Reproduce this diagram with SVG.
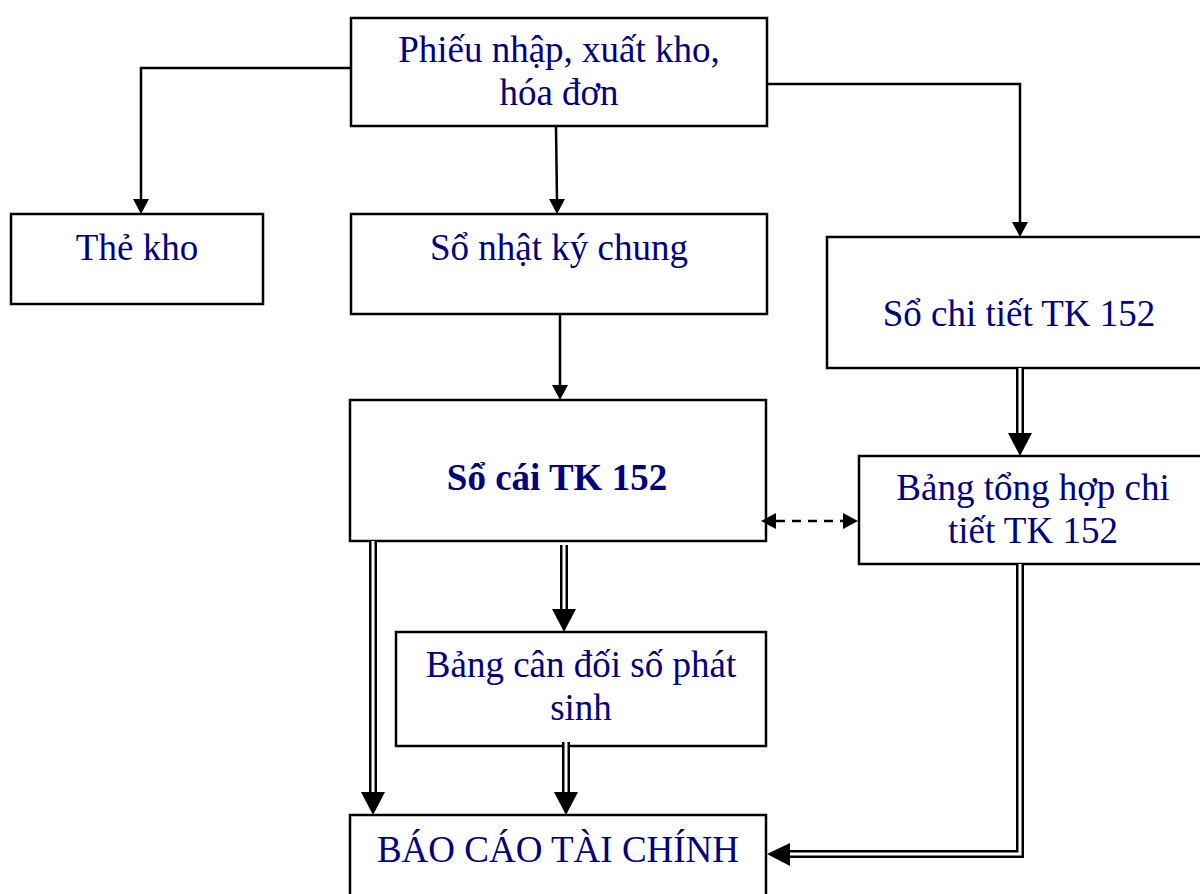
<svg xmlns="http://www.w3.org/2000/svg" width="1200" height="894" viewBox="0 0 1200 894">
<style>
.box{fill:#fff;stroke:#000;stroke-width:2.5}
.t{font-family:"Liberation Serif","Times New Roman",serif;font-size:37px;fill:#000080;text-anchor:middle}
.b{font-weight:bold}
.ln{fill:none;stroke:#000;stroke-width:2.5}
.dbl{fill:none;stroke:#000;stroke-width:8}
.dblw{fill:none;stroke:#fff;stroke-width:3}
.dash{fill:none;stroke:#000;stroke-width:2.5;stroke-dasharray:9 7}
.ah{fill:#000}
</style>
<rect width="1200" height="894" fill="#fff"/>
<g id="n-phieu"><rect class="box" x="351" y="18" width="416" height="108"/><text class="t" x="559" y="62">Phiếu nhập, xuất kho,</text><text class="t" x="559" y="105">hóa đơn</text></g>
<g id="n-thekho"><rect class="box" x="11" y="214" width="252" height="90"/><text class="t" x="137" y="260">Thẻ kho</text></g>
<g id="n-nkc"><rect class="box" x="351" y="214" width="416" height="100"/><text class="t" x="559" y="260">Sổ nhật ký chung</text></g>
<g id="n-sct"><rect class="box" x="827" y="237" width="380" height="131"/><text class="t" x="1019" y="326">Sổ chi tiết TK 152</text></g>
<g id="n-socai"><rect class="box" x="350" y="400" width="416" height="141"/><text class="t b" x="557" y="490">Sổ cái TK 152</text></g>
<g id="n-bth"><rect class="box" x="859" y="456" width="348" height="108"/><text class="t" x="1033" y="500">Bảng tổng hợp chi</text><text class="t" x="1033" y="543">tiết TK 152</text></g>
<g id="n-bcd"><rect class="box" x="396" y="632" width="370" height="114"/><text class="t" x="581" y="677">Bảng cân đối số phát</text><text class="t" x="581" y="720">sinh</text></g>
<g id="n-bctc"><rect class="box" x="350" y="815" width="416" height="90"/><text class="t" x="558" y="862">BÁO CÁO TÀI CHÍNH</text></g>
<g id="connectors">
<path class="ln" d="M351 68 H141 V201"/><polygon class="ah" points="133,199 149,199 141,214"/>
<path class="ln" d="M556 127 L557 201"/><polygon class="ah" points="549,199 565,199 557,214"/>
<path class="ln" d="M767 84 H1020 V224"/><polygon class="ah" points="1012,222 1028,222 1020,237"/>
<path class="ln" d="M560 314 V387"/><polygon class="ah" points="552,385 568,385 560,400"/>
<path class="dash" d="M776 521 H846"/><polygon class="ah" points="761,521 776,513 776,529"/><polygon class="ah" points="858,521 843,513 843,529"/>
<path class="dbl" d="M1020 368 V436"/><path class="dblw" d="M1020 368 V436"/><polygon class="ah" points="1008,433 1032,433 1020,456"/>
<path class="dbl" d="M373 541 V795"/><path class="dblw" d="M373 541 V795"/><polygon class="ah" points="361,792 385,792 373,815"/>
<path class="dbl" d="M564 545 V612"/><path class="dblw" d="M564 545 V612"/><polygon class="ah" points="552,609 576,609 564,632"/>
<path class="dbl" d="M566 742 V795"/><path class="dblw" d="M566 742 V795"/><polygon class="ah" points="554,792 578,792 566,815"/>
<path class="dbl" d="M1020 564 V854 H788" stroke-linejoin="miter"/><path class="dblw" d="M1020 564 V854 H788" stroke-linejoin="miter"/><polygon class="ah" points="767,854 790,843 790,866"/>
</g>
</svg>
